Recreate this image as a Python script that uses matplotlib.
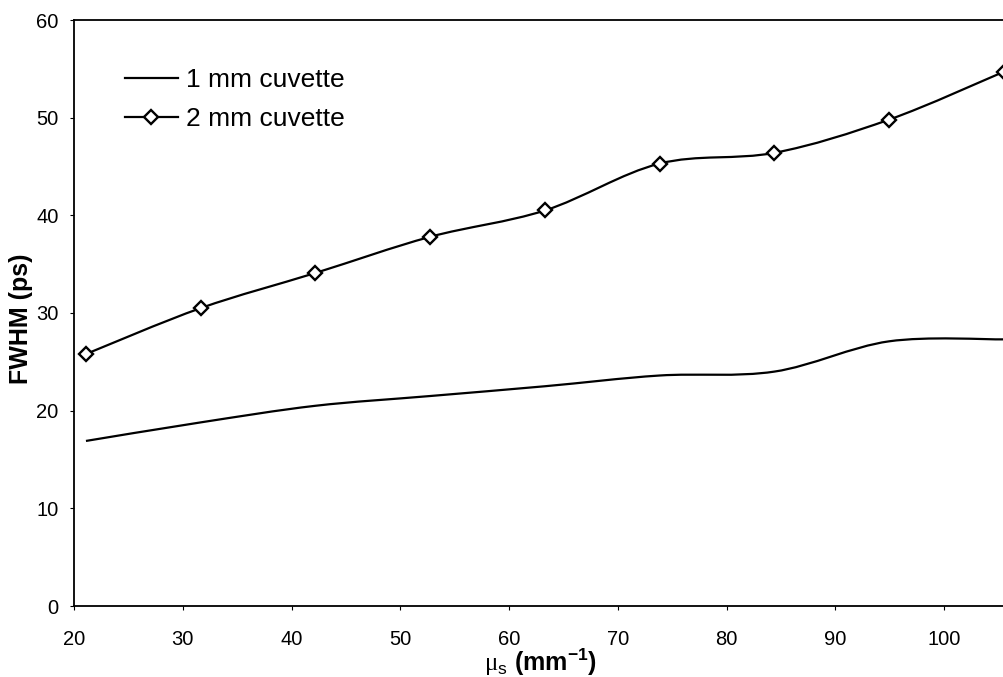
import numpy as np
import matplotlib
matplotlib.use("Agg")
import matplotlib.pyplot as plt
from matplotlib.path import Path
from matplotlib.patches import PathPatch
from matplotlib.lines import Line2D

plt.rcParams['font.family'] = ['Liberation Sans', 'DejaVu Sans']
plt.rcParams['mathtext.fontset'] = 'custom'
plt.rcParams['mathtext.rm'] = 'Liberation Serif'
plt.rcParams['mathtext.sf'] = 'Liberation Sans'
plt.rcParams['mathtext.bf'] = 'Liberation Sans:bold'

# Scattering coefficient (mm^-1) and measured pulse widths (ps)
mu_s = [21.1, 31.65, 42.2, 52.75, 63.3, 73.85, 84.4, 94.95, 105.5]
fwhm_1mm = [16.9, 18.8, 20.5, 21.5, 22.5, 23.6, 24.0, 27.1, 27.3]
fwhm_2mm = [25.8, 30.5, 34.1, 37.8, 40.5, 45.3, 46.4, 49.8, 54.7]

label_1mm = "1 mm cuvette"
label_2mm = "2 mm cuvette"
x_ticks = [20, 30, 40, 50, 60, 70, 80, 90, 100]
y_ticks = [0, 10, 20, 30, 40, 50, 60]


def smooth_path(x, y):
    """Cubic Bezier spline through the points (spreadsheet-style smoothed line)."""
    pts = np.column_stack([x, y]).astype(float)
    n = len(pts)
    verts = [pts[0]]
    codes = [Path.MOVETO]
    for i in range(n - 1):
        p0 = pts[max(i - 1, 0)]
        p1 = pts[i]
        p2 = pts[i + 1]
        p3 = pts[min(i + 2, n - 1)]
        c1 = p1 + (p2 - p0) / 6.0
        c2 = p2 - (p3 - p1) / 6.0
        verts += [c1, c2, p2]
        codes += [Path.CURVE4] * 3
    return Path(verts, codes)


W, H = 1004, 677
fig = plt.figure(figsize=(W / 100, H / 100), dpi=100)
ax = fig.add_axes([74 / W, 71 / H, 932 / W, 586 / H])

lw = 1.6
ax.add_patch(PathPatch(smooth_path(mu_s, fwhm_1mm), fill=False, ec='black', lw=lw))
ax.add_patch(PathPatch(smooth_path(mu_s, fwhm_2mm), fill=False, ec='black', lw=lw))
ax.plot(mu_s, fwhm_2mm, linestyle='none', marker='D', ms=6.8, mfc='white',
        mec='black', mew=1.7, zorder=3, clip_on=False)

ax.set_xlim(20, 105.7)
ax.set_ylim(0, 60)
ax.set_xticks(x_ticks)
ax.set_yticks(y_ticks)
ax.tick_params(axis='both', labelsize=14.5, length=3, width=0.8, direction='out')
ax.tick_params(axis='x', pad=14)
ax.tick_params(axis='y', pad=8)
for s in ax.spines.values():
    s.set_linewidth(1.3)
ax.spines['right'].set_visible(False)

ax.set_ylabel('FWHM (ps)', fontsize=18, fontweight='bold')
ax.yaxis.set_label_coords(-0.044, 0.49)
ax.set_xlabel(r'$\mathrm{\mu}_\mathsf{s}$ (mm$^{\mathbf{-1}}$)', fontsize=18,
              fontweight='bold')
ax.xaxis.set_label_coords(0.5, -0.07)

handles = [
    Line2D([], [], color='black', lw=lw),
    Line2D([], [], color='black', lw=lw, marker='D', ms=6.8, mfc='white',
           mec='black', mew=1.7),
]
leg = ax.legend(handles, [label_1mm, label_2mm], loc='upper left',
                bbox_to_anchor=(0.0547, 0.918), frameon=False, fontsize=19,
                handlelength=2.0, handletextpad=0.3, labelspacing=0.58,
                borderpad=0, borderaxespad=0)

fig.savefig('out.png', dpi=100)
